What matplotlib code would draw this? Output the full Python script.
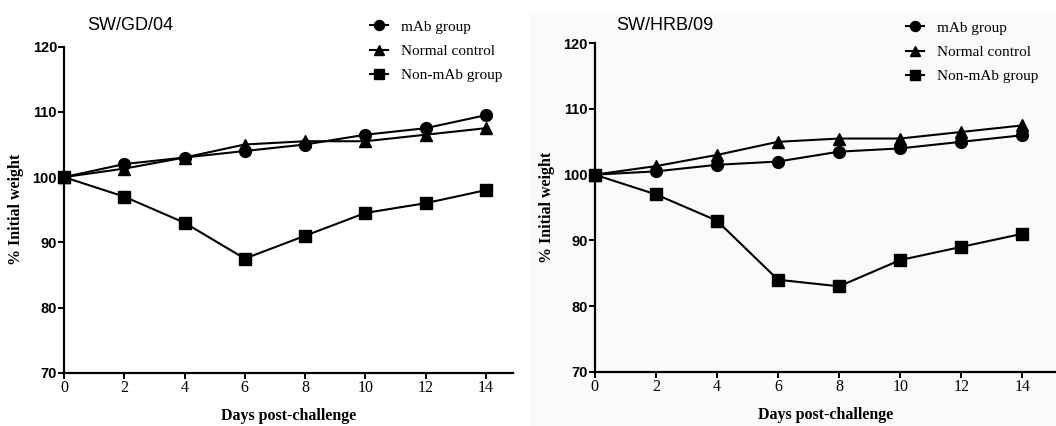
import matplotlib
matplotlib.use("Agg")
import matplotlib.pyplot as plt
from matplotlib.patches import Rectangle

days = [0, 2, 4, 6, 8, 10, 12, 14]
series_labels = ["mAb group", "Normal control", "Non-mAb group"]

gd_mab = [100, 102, 103, 104, 105, 106.5, 107.5, 109.5]
gd_normal = [100, 101.3, 103, 105, 105.5, 105.5, 106.5, 107.5]
gd_nonmab = [100, 97, 93, 87.5, 91, 94.5, 96, 98]

hrb_mab = [100, 100.5, 101.5, 102, 103.5, 104, 105, 106]
hrb_normal = [100, 101.3, 103, 105, 105.5, 105.5, 106.5, 107.5]
hrb_nonmab = [100, 97, 93, 84, 83, 87, 89, 91]

yticks = [70, 80, 90, 100, 110, 120]

W, H = 1056, 426
fig = plt.figure(figsize=(W / 100, H / 100), dpi=100)

# faint background behind the right panel
fig.patches.append(Rectangle((530 / W, 0), 1 - 530 / W, 1 - 12 / H,
                             transform=fig.transFigure, color="#fcf9f9",
                             zorder=-5))

markers = ["o", "^", "s"]
msizes = [8.5, 8.5, 9]


def draw_panel(rect, xmax, title, title_x, values, leg_anchor):
    ax = fig.add_axes(rect)
    ax.patch.set_alpha(0)
    for vals, lab, m, ms in zip(values, series_labels, markers, msizes):
        ax.plot(days, vals, color="black", lw=1.5, marker=m, markersize=ms,
                label=lab, clip_on=False)
    ax.set_xlim(0, xmax)
    ax.set_ylim(70, 120)
    ax.set_xticks(days)
    ax.set_yticks(yticks)
    for s in ["top", "right"]:
        ax.spines[s].set_visible(False)
    for s in ["left", "bottom"]:
        ax.spines[s].set_linewidth(1.6)
    ax.tick_params(axis="y", direction="out", length=4, width=1.4, pad=1)
    ax.tick_params(axis="x", direction="out", length=4, width=1.4, pad=1)
    for t in ax.get_yticklabels():
        t.set_fontfamily("Liberation Sans")
        t.set_fontweight("bold")
        t.set_fontsize(10.5)
    for t in ax.get_xticklabels():
        t.set_fontfamily("Liberation Serif")
        t.set_fontsize(11.5)
    ax.set_xlabel("Days post-challenge", family="Liberation Serif",
                  weight="bold", fontsize=11.5, labelpad=9)
    ax.set_ylabel("% Initial weight", family="Liberation Serif",
                  weight="bold", fontsize=11.5, labelpad=6)
    fig.text(title_x / W, 1 - 25 / H, title, family="Liberation Sans",
             fontsize=13, va="center", ha="left")
    ax.legend(loc="upper left", bbox_to_anchor=leg_anchor,
              bbox_transform=fig.transFigure, frameon=False,
              prop={"family": "Liberation Serif", "size": 11},
              handlelength=1.2, handletextpad=0.8, labelspacing=0.7,
              markerscale=0.85, borderaxespad=0, borderpad=0)
    return ax


draw_panel([64 / W, 53.3 / H, 449 / W, 326 / H], 14.9, "SW/GD/04", 87,
           [gd_mab, gd_normal, gd_nonmab], (370 / W, 1 - 20 / H))
draw_panel([594.7 / W, 54.3 / H, 461.3 / W, 328.4 / H], 15.1, "SW/HRB/09", 616,
           [hrb_mab, hrb_normal, hrb_nonmab], (906 / W, 1 - 21 / H))

fig.savefig("out.png", dpi=100)
